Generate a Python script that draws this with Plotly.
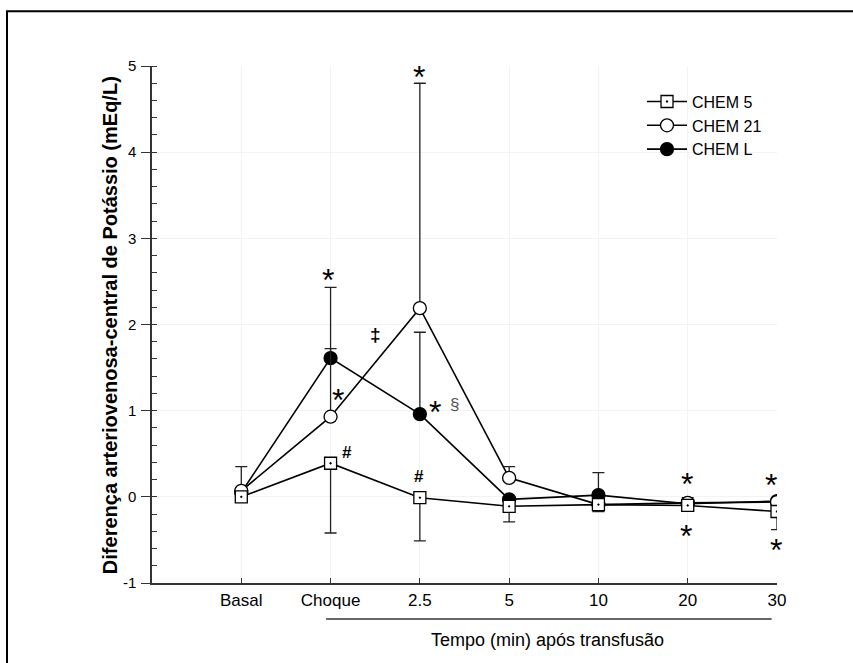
import plotly.graph_objects as go

# ---- data ----
categories = ["Basal", "Choque", "2.5", "5", "10", "20", "30"]
x_pos = [1, 2, 3, 4, 5, 6, 7]
y_ticks = [-1, 0, 1, 2, 3, 4, 5]
y_ticktext = ["-1", "0", "1", "2", "3", "4", "5"]

chem5 = [0.00, 0.39, -0.01, -0.11, -0.09, -0.10, -0.17]
chem5_up = [0, 0, 0, 0, 0, 0, 0]
chem5_dn = [0.04, 0.81, 0.50, 0.18, 0.08, 0.03, 0.21]

chem21 = [0.07, 0.93, 2.19, 0.22, -0.09, -0.07, -0.06]
chem21_up = [0.28, 0.79, 2.61, 0.13, 0.0, 0.06, 0.0]
chem21_dn = [0, 0, 0, 0, 0, 0, 0]

chemL = [0.05, 1.61, 0.96, -0.03, 0.02, -0.08, -0.05]
chemL_up = [0.0, 0.82, 0.95, 0.0, 0.26, 0.0, 0.0]
chemL_dn = [0, 0, 0, 0, 0, 0, 0]

# significance marks: text, x (category position), y (value)
mark_text = ["*", "*", "‡", "*", "*", "§", "#", "#", "*", "*", "*", "*"]
mark_x = [1.97, 2.99, 2.50, 2.08, 3.17, 3.39, 2.18, 2.99, 5.99, 5.98, 6.93, 6.99]
mark_y = [2.60, 4.95, 1.88, 1.21, 1.07, 1.07, 0.52, 0.24, 0.23, -0.37, 0.22, -0.53]

FONT = "Arial, Liberation Sans, sans-serif"

fig = go.Figure()

def add_series(name, y, up, dn, symbol, fill, rank, size):
    fig.add_trace(go.Scatter(
        x=x_pos, y=y, name=name, mode="lines+markers",
        line=dict(color="black", width=1.6),
        marker=dict(symbol=symbol, size=size, color=fill,
                    line=dict(color="black", width=1.3)),
        error_y=dict(type="data", symmetric=False, array=up, arrayminus=dn,
                     color="#222222", thickness=1.3, width=6),
        legendrank=rank,
    ))

add_series("CHEM L", chemL, chemL_up, chemL_dn, "circle", "black", 3, 13)
add_series("CHEM 21", chem21, chem21_up, chem21_dn, "circle", "white", 2, 13)
add_series("CHEM 5", chem5, chem5_up, chem5_dn, "square-dot", "white", 1, 12)

for t, xx, yy in zip(mark_text, mark_x, mark_y):
    if t == "*":
        f = dict(family=FONT, size=32, color="black")
        ys = -7
        txt = "*"
    elif t == "§":
        f = dict(family=FONT, size=17, color="#555555")
        ys = 0
        txt = t
    elif t == "‡":
        f = dict(family=FONT, size=19, color="black")
        ys = 0
        txt = "<b>‡</b>"
    else:
        f = dict(family=FONT, size=17, color="black")
        ys = 0
        txt = "<b>#</b>"
    fig.add_annotation(x=xx, y=yy, text=txt, showarrow=False,
                       font=f, xanchor="center", yanchor="middle", yshift=ys)

# x-axis group line and label
fig.add_shape(type="line", xref="x", yref="paper", x0=1.95, x1=6.94,
              y0=-0.0696, y1=-0.0696, line=dict(color="#333333", width=1.5))
fig.add_annotation(xref="x", yref="paper", x=4.43, y=-0.110,
                   text="Tempo (min) após transfusão", showarrow=False,
                   font=dict(family=FONT, size=18, color="black"),
                   xanchor="center", yanchor="middle")

# y-axis title
fig.add_annotation(xref="paper", yref="paper", x=-0.067, y=0.499,
                   text="<b>Diferença arteriovenosa-central de Potássio (mEq/L)</b>",
                   textangle=-90, showarrow=False,
                   font=dict(family=FONT, size=20, color="black"),
                   xanchor="center", yanchor="middle")

# outer frame
fig.add_shape(type="rect", xref="paper", yref="paper",
              x0=-0.232, x1=1.2, y0=-0.2, y1=1.106,
              line=dict(color="black", width=2))

fig.update_layout(
    width=853, height=663,
    margin=dict(l=152, r=76, t=66, b=80),
    paper_bgcolor="white", plot_bgcolor="white",
    font=dict(family=FONT, size=13, color="black"),
    showlegend=True,
    legend=dict(x=0.784, y=0.964, xanchor="left", yanchor="top",
                bgcolor="rgba(0,0,0,0)", font=dict(size=16),
                tracegroupgap=0, itemwidth=40),
)

fig.update_xaxes(range=[0, 7], tickvals=x_pos, ticktext=categories,
                 showline=True, linecolor="#333333", linewidth=1.5,
                 ticks="inside", ticklen=5, tickcolor="#333333",
                 showgrid=True, gridcolor="#f3f3f3", zeroline=False,
                 tickfont=dict(size=17), ticklabelstandoff=1)
fig.update_yaxes(range=[-1, 5], tickvals=y_ticks, ticktext=y_ticktext,
                 showline=True, linecolor="#333333", linewidth=1.5,
                 ticks="outside", ticklen=9, tickcolor="#333333",
                 minor=dict(dtick=0.2, ticks="inside", ticklen=5,
                            tickcolor="#333333", showgrid=False),
                 showgrid=True, gridcolor="#f3f3f3", zeroline=False,
                 tickfont=dict(size=15), ticklabelstandoff=2)

fig.write_html("out.html")
